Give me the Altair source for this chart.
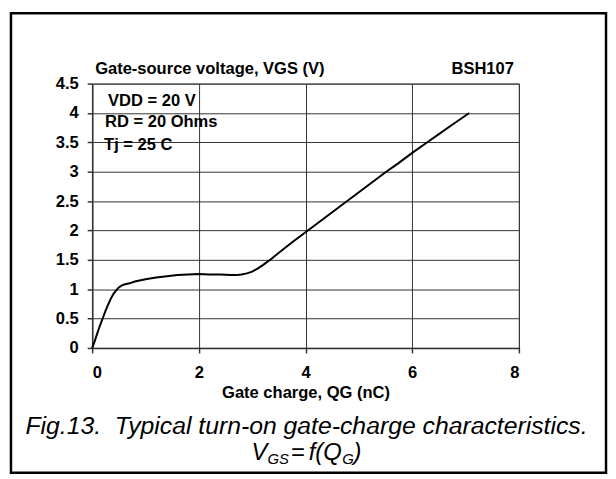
import altair as alt
import pandas as pd

qg = [0, 0.05, 0.1, 0.15, 0.2, 0.25, 0.3, 0.35, 0.4, 0.45, 0.5, 0.55, 0.6, 0.7, 0.8,
      1.0, 1.2, 1.4, 1.6, 1.8, 2.0, 2.2, 2.4, 2.6, 2.7, 2.8, 2.9, 3.0, 3.1, 3.2, 3.35,
      3.5, 3.75, 4.0, 4.25, 4.5, 4.75, 5.0, 5.25, 5.5, 5.75, 6.0, 6.25, 6.5, 6.75, 7.07]
vgs = [0, 0.12, 0.26, 0.39, 0.51, 0.63, 0.74, 0.84, 0.92, 0.98, 1.03, 1.06, 1.08, 1.10, 1.13,
       1.17, 1.20, 1.22, 1.24, 1.25, 1.26, 1.25, 1.25, 1.24, 1.24, 1.25, 1.27, 1.30, 1.35, 1.41, 1.51,
       1.62, 1.80, 1.97, 2.14, 2.31, 2.48, 2.65, 2.82, 2.99, 3.15, 3.32, 3.48, 3.64, 3.80, 4.00]

x_ticks = [0, 2, 4, 6, 8]
y_ticks = [0, 0.5, 1, 1.5, 2, 2.5, 3, 3.5, 4, 4.5]

chart_title = "Gate-source voltage, VGS (V)"
part_no = "BSH107"
conditions = ["VDD = 20 V", "RD = 20 Ohms", "Tj = 25 C"]
x_title = "Gate charge, QG (nC)"
caption1 = "Fig.13.\u00a0 Typical turn-on gate-charge characteristics."

FONT = "Arial, Liberation Sans, sans-serif"
W, H = 431, 267
BS = 16.7

df = pd.DataFrame({"qg": qg, "vgs": vgs})
one = alt.Data(values=[{}])

line = alt.Chart(df).mark_line(color="black", strokeWidth=2).encode(
    x=alt.X("qg:Q", scale=alt.Scale(domain=[0, 8], nice=False),
            axis=alt.Axis(values=x_ticks, title=x_title, format="~g")),
    y=alt.Y("vgs:Q", scale=alt.Scale(domain=[0, 4.5], nice=False),
            axis=alt.Axis(values=y_ticks, title=None, format="~g")),
)

def txt(s, x, y, size=BS, weight="bold", style="normal", align="left"):
    return alt.Chart(one).mark_text(
        text=s, font=FONT, fontSize=size, fontWeight=weight, fontStyle=style,
        align=align, baseline="alphabetic", color="black",
    ).encode(x=alt.value(x), y=alt.value(y))

frame = alt.Chart(one).mark_rect(filled=False, stroke="black", strokeWidth=2.5).encode(
    x=alt.value(-82), x2=alt.value(519), y=alt.value(-71), y2=alt.value(393)
)

layers = [
    frame,
    line,
    txt(chart_title, 3, -10),
    txt(part_no, 426, -10, align="right"),
    txt(conditions[0], 16, 23),
    txt(conditions[1], 13, 44),
    txt(conditions[2], 12, 67),
    txt(caption1, 216.5, 354, size=25, weight="normal", style="italic", align="center"),
    txt("V", 161, 380, size=24, weight="normal", style="italic"),
    txt("GS", 177, 384, size=15, weight="normal", style="italic"),
    txt("=", 200.7, 380, size=24, weight="normal", style="italic"),
    txt("f(Q", 218.7, 380, size=24, weight="normal", style="italic"),
    txt("G", 252.5, 384, size=15, weight="normal", style="italic"),
    txt(")", 264, 380, size=24, weight="normal", style="italic"),
]

chart = alt.layer(*layers).properties(
    width=W, height=H,
    autosize=alt.AutoSizeParams(type="none"),
    padding={"left": 85, "top": 74, "right": 90, "bottom": 130},
    background="white",
).configure_view(stroke="#444", strokeWidth=1).configure_axis(
    grid=True, gridColor="#333", gridWidth=1, gridOpacity=1,
    domainColor="#333", domainWidth=1.5, tickColor="#333", tickSize=5, tickWidth=1.5,
    labelFont=FONT, labelFontSize=BS, labelFontWeight="bold", labelColor="black",
    titleFont=FONT, titleFontSize=BS, titleFontWeight="bold", titleColor="black",
).configure_axisX(labelPadding=12, titlePadding=3).configure_axisY(labelPadding=9)

chart.save("out.html", embed_options={"renderer": "svg", "actions": False})
